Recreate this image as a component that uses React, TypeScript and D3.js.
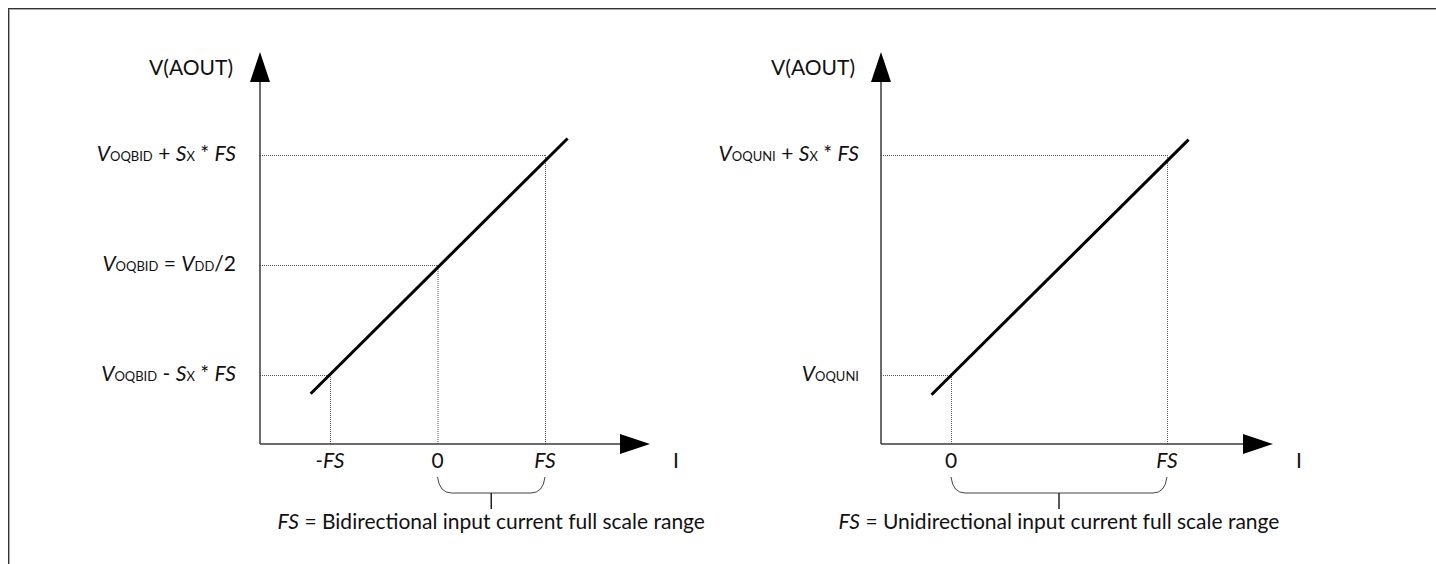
import React from "react";
import * as d3 from "d3";

type Seg = { t: string; s?: "i" | "sub" };

// left panel: bidirectional
const bidiTickValues = [-1, 0, 1];
const bidiTickLabels = ["-FS", "0", "FS"];
const bidiLevels = [1, 0, -1];
const bidiLevelLabels: Seg[][] = [
    [{ t: "V", s: "i" }, { t: "OQBID", s: "sub" }, { t: " + " }, { t: "S", s: "i" }, { t: "X", s: "sub" }, { t: " * " }, { t: "FS", s: "i" }],
    [{ t: "V", s: "i" }, { t: "OQBID", s: "sub" }, { t: " = " }, { t: "V", s: "i" }, { t: "DD", s: "sub" }, { t: "/2" }],
    [{ t: "V", s: "i" }, { t: "OQBID", s: "sub" }, { t: " - " }, { t: "S", s: "i" }, { t: "X", s: "sub" }, { t: " * " }, { t: "FS", s: "i" }],
];
const bidiLine = [[-1.18, -1.17], [1.21, 1.15]];
const bidiCaption: Seg[] = [{ t: "FS", s: "i" }, { t: " = Bidirectional input current full scale range" }];

// right panel: unidirectional
const uniTickValues = [0, 1];
const uniTickLabels = ["0", "FS"];
const uniLevels = [1, 0];
const uniLevelLabels: Seg[][] = [
    [{ t: "V", s: "i" }, { t: "OQUNI", s: "sub" }, { t: " + " }, { t: "S", s: "i" }, { t: "X", s: "sub" }, { t: " * " }, { t: "FS", s: "i" }],
    [{ t: "V", s: "i" }, { t: "OQUNI", s: "sub" }],
];
const uniLine = [[-0.09, -0.09], [1.10, 1.07]];
const uniCaption: Seg[] = [{ t: "FS", s: "i" }, { t: " = Unidirectional input current full scale range" }];

const yTitle = "V(AOUT)";
const xTitle = "I";

const FONT = "Lato, 'Open Sans', sans-serif";
const FS = 21;
const SUB = 13;
const TEXT = "#111";
const AXIS = "#3a3a3a";

function Rich({ segs, ...rest }: { segs: Seg[]; [k: string]: any })
{
    return (
        <text {...rest}>
            {segs.map((s, i) => (
                <tspan
                    key={i}
                    fontStyle={s.s === "i" ? "italic" : "normal"}
                    fontSize={s.s === "sub" ? SUB : FS}
                >
                    {s.t}
                </tspan>
            ))}
        </text>
    );
}

interface PanelProps
{
    xDomain: number[];
    xRange: number[];
    yDomain: number[];
    yRange: number[];
    originX: number;
    originY: number;
    topY: number;
    rightX: number;
    labelX: number;
    titleX: number;
    tickValues: number[];
    tickLabels: string[];
    levels: number[];
    levelLabels: Seg[][];
    line: number[][];
    caption: Seg[];
}

function Panel(p: PanelProps)
{
    const x = d3.scaleLinear().domain(p.xDomain).range(p.xRange);
    const y = d3.scaleLinear().domain(p.yDomain).range(p.yRange);

    const lineGen = d3.line<number[]>().x((d) => x(d[0])).y((d) => y(d[1]));

    const arrowLen = 30;
    const arrowHalf = 10;

    // brace spans 0 .. FS
    const bx0 = x(0);
    const bx1 = x(1);
    const bTop = p.originY + 33;
    const bMid = p.originY + 49;
    const bTick = p.originY + 65;
    const bCx = (bx0 + bx1) / 2;
    const brace = d3.path();
    brace.moveTo(bx0, bTop);
    brace.quadraticCurveTo(bx0 + 2, bMid, bx0 + 14, bMid);
    brace.lineTo(bx1 - 14, bMid);
    brace.quadraticCurveTo(bx1 - 2, bMid, bx1, bTop);

    return (
        <g>
            {/* dotted guides */}
            {p.levels.map((lv, i) => (
                <g key={i} stroke="#555" strokeWidth={1} strokeDasharray="1,1" fill="none">
                    <line x1={p.originX} x2={x(lv)} y1={y(lv) + 0.5} y2={y(lv) + 0.5} />
                    <line x1={x(lv) + 0.5} x2={x(lv) + 0.5} y1={y(lv)} y2={p.originY} />
                </g>
            ))}

            {/* axes */}
            <line x1={p.originX} x2={p.originX} y1={p.originY} y2={p.topY + arrowLen} stroke={AXIS} strokeWidth={1.5} />
            <path
                d={`M${p.originX},${p.topY}L${p.originX - arrowHalf},${p.topY + arrowLen}L${p.originX + arrowHalf},${p.topY + arrowLen}Z`}
                fill="#000"
            />
            <line x1={p.originX} x2={p.rightX - arrowLen} y1={p.originY} y2={p.originY} stroke={AXIS} strokeWidth={1.5} />
            <path
                d={`M${p.rightX},${p.originY}L${p.rightX - arrowLen},${p.originY - arrowHalf}L${p.rightX - arrowLen},${p.originY + arrowHalf}Z`}
                fill="#000"
            />

            {/* transfer line */}
            <path d={lineGen(p.line) || ""} stroke="#000" strokeWidth={3} fill="none" />

            {/* axis titles */}
            <text x={p.titleX} y={75} textAnchor="end" fontSize={FS} fill={TEXT}>{yTitle}</text>
            <text x={p.rightX + 26} y={468} textAnchor="middle" fontSize={FS} fill={TEXT}>{xTitle}</text>

            {/* ticks */}
            {p.tickValues.map((v, i) => (
                <text
                    key={i}
                    x={x(v)}
                    y={468}
                    textAnchor="middle"
                    fontSize={FS}
                    fill={TEXT}
                    fontStyle={p.tickLabels[i] === "0" ? "normal" : "italic"}
                >
                    {p.tickLabels[i]}
                </text>
            ))}

            {/* level labels */}
            {p.levels.map((lv, i) => (
                <Rich key={i} segs={p.levelLabels[i]} x={p.labelX} y={y(lv) + 6} textAnchor="end" fill={TEXT} />
            ))}

            {/* brace + caption */}
            <path d={brace.toString()} stroke="#444" strokeWidth={1} fill="none" />
            <line x1={bCx} x2={bCx} y1={bMid} y2={bTick} stroke="#222" strokeWidth={1.5} />
            <Rich segs={p.caption} x={bCx} y={529} textAnchor="middle" fill={TEXT} />
        </g>
    );
}

export default function App()
{
    return (
        <svg
            width={1436}
            height={564}
            style={{ position: "absolute", left: 0, top: 0, fontFamily: FONT }}
        >
            <rect x={0} y={0} width={1436} height={564} fill="#fff" />
            {/* frame of the figure, runs off the right and bottom */}
            <line x1={8} x2={1436} y1={8.5} y2={8.5} stroke="#333" strokeWidth={1} />
            <line x1={9} x2={1436} y1={9.5} y2={9.5} stroke="#aaa" strokeWidth={1} />
            <line x1={8.5} x2={8.5} y1={8} y2={564} stroke="#333" strokeWidth={1} />
            <line x1={9.5} x2={9.5} y1={9} y2={564} stroke="#aaa" strokeWidth={1} />

            <Panel
                xDomain={[-1, 1]}
                xRange={[330, 545]}
                yDomain={[-1, 1]}
                yRange={[375, 155]}
                originX={260}
                originY={444}
                topY={52}
                rightX={650}
                labelX={236}
                titleX={233}
                tickValues={bidiTickValues}
                tickLabels={bidiTickLabels}
                levels={bidiLevels}
                levelLabels={bidiLevelLabels}
                line={bidiLine}
                caption={bidiCaption}
            />
            <Panel
                xDomain={[0, 1]}
                xRange={[951, 1167]}
                yDomain={[0, 1]}
                yRange={[375, 155]}
                originX={881}
                originY={444}
                topY={52}
                rightX={1273}
                labelX={859}
                titleX={855}
                tickValues={uniTickValues}
                tickLabels={uniTickLabels}
                levels={uniLevels}
                levelLabels={uniLevelLabels}
                line={uniLine}
                caption={uniCaption}
            />
        </svg>
    );
}
